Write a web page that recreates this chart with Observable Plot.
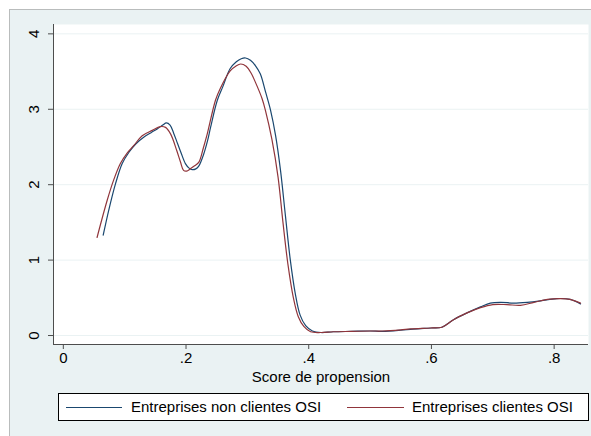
<!DOCTYPE html>
<html>
<head>
<meta charset="utf-8">
<script src="https://cdn.jsdelivr.net/npm/d3@7"></script>
<script src="https://cdn.jsdelivr.net/npm/@observablehq/plot@0.6"></script>
<style>
  html, body { margin: 0; padding: 0; background: #ffffff; }
  #wrap { position: relative; width: 591px; height: 436px; overflow: hidden; font-family: "Liberation Sans", Arial, sans-serif; }
  #region { position: absolute; left: 9px; top: 9px; right: 0; bottom: 0; background: #eaf2f3; border-left: 1px solid #b9bcbc; border-top: 1px solid #b9bcbc; }
  #chart { position: absolute; left: 0; top: 0; }
  #legend { position: absolute; left: 58px; top: 393px; width: 531px; height: 28px; box-sizing: border-box; border: 1px solid #000; background: #fff; }
  .sw { position: absolute; top: 12.5px; height: 0; border-top: 1.5px solid; }
  .lt { position: absolute; top: 4px; font-size: 15px; line-height: 17px; color: #000; white-space: nowrap; }
</style>
</head>
<body>
<div id="wrap">
  <div id="region"></div>
  <div id="chart"></div>
  <div id="legend"></div>
</div>
<script>
// Series names
const seriesNames = ["Entreprises non clientes OSI", "Entreprises clientes OSI"];
const seriesColors = ["#1a476f", "#90353b"];

// Entreprises non clientes OSI (kernel density)
const nonX = [0.065,0.074,0.085,0.096,0.107,0.118,0.131,0.143,0.153,0.162,0.168,0.174,0.180,0.186,0.192,0.199,0.205,0.210,0.216,0.221,0.229,0.235,0.240,0.251,0.260,0.272,0.282,0.290,0.297,0.305,0.313,0.321,0.3296,0.338,0.346,0.354,0.362,0.370,0.378,0.386,0.395,0.406,0.42,0.44,0.47,0.50,0.52,0.55,0.57,0.60,0.617,0.636,0.658,0.68,0.696,0.713,0.734,0.756,0.778,0.804,0.826,0.843];
const nonY = [1.33,1.66,2.01,2.28,2.43,2.54,2.63,2.69,2.74,2.79,2.82,2.79,2.68,2.55,2.42,2.28,2.22,2.20,2.21,2.25,2.41,2.58,2.76,3.12,3.30,3.54,3.63,3.67,3.68,3.65,3.58,3.47,3.23,2.98,2.65,2.19,1.59,1.00,0.56,0.27,0.13,0.06,0.04,0.05,0.055,0.06,0.055,0.07,0.085,0.10,0.11,0.21,0.30,0.38,0.43,0.44,0.43,0.44,0.46,0.49,0.48,0.42];

// Entreprises clientes OSI
const cliX = [0.055,0.0714,0.082,0.093,0.104,0.115,0.1286,0.145,0.158,0.1666,0.175,0.185,0.191,0.196,0.201,0.207,0.214,0.221,0.228,0.2345,0.248,0.256,0.272,0.281,0.289,0.298,0.306,0.313,0.324,0.3296,0.340,0.350,0.358,0.366,0.375,0.383,0.392,0.403,0.42,0.44,0.47,0.50,0.52,0.55,0.566,0.598,0.617,0.636,0.658,0.68,0.70,0.723,0.745,0.767,0.789,0.81,0.826,0.843];
const cliY = [1.30,1.79,2.06,2.28,2.42,2.52,2.65,2.72,2.77,2.76,2.67,2.45,2.30,2.19,2.18,2.21,2.25,2.30,2.48,2.67,3.12,3.28,3.51,3.57,3.60,3.57,3.48,3.36,3.14,2.98,2.60,2.10,1.50,0.95,0.50,0.25,0.12,0.05,0.04,0.05,0.055,0.06,0.06,0.075,0.088,0.10,0.11,0.21,0.30,0.37,0.41,0.41,0.40,0.44,0.48,0.49,0.48,0.43];

// Axes
const xTicks = [0, 0.2, 0.4, 0.6, 0.8];
const xTickLabels = ["0", ".2", ".4", ".6", ".8"];
const yTicks = [0, 1, 2, 3, 4];
const yTickLabels = ["0", "1", "2", "3", "4"];
const xDomain = [-0.016, 0.856];
const yDomain = [-0.119, 4.124];
const xTitle = "Score de propension";

const rows = [
  ...nonX.map((x, i) => ({x, y: nonY[i], s: seriesNames[0]})),
  ...cliX.map((x, i) => ({x, y: cliY[i], s: seriesNames[1]}))
];

const axisColor = "#4d4d4d";

const chart = Plot.plot({
  width: 591,
  height: 392,
  marginLeft: 53,
  marginRight: 3,
  marginTop: 24,
  marginBottom: 48,
  style: {background: "transparent", fontFamily: "'Liberation Sans', Arial, sans-serif", fontSize: "15px", color: "#000"},
  x: {domain: xDomain},
  y: {domain: yDomain},
  color: {domain: seriesNames, range: seriesColors},
  marks: [
    Plot.frame({fill: "#ffffff", stroke: null}),
    Plot.gridY(yTicks, {stroke: "#eaf2f3", strokeOpacity: 1, strokeWidth: 1}),
    Plot.line(rows, {x: "x", y: "y", z: "s", stroke: "s", strokeWidth: 1.2, curve: "catmull-rom"}),
    Plot.ruleX([xDomain[0]], {stroke: axisColor, strokeWidth: 1}),
    Plot.ruleY([yDomain[0]], {stroke: axisColor, strokeWidth: 1}),
    Plot.axisY({ticks: yTicks, tickFormat: (d, i) => yTickLabels[i], tickSize: 5, tickRotate: -90, tickPadding: 10, stroke: axisColor, label: null}),
    Plot.axisX({ticks: xTicks, tickFormat: (d, i) => xTickLabels[i], tickSize: 5, tickPadding: 3, stroke: axisColor, label: xTitle, labelAnchor: "center", labelArrow: "none", labelOffset: 37})
  ]
});
document.getElementById("chart").appendChild(chart);

// Legend (HTML, below the plot area)
const legend = document.getElementById("legend");
const swLeft = [7, 288], swWidth = [56, 57], txLeft = [72, 353];
seriesNames.forEach((name, i) => {
  const sw = document.createElement("div");
  sw.className = "sw";
  sw.style.left = swLeft[i] + "px";
  sw.style.width = swWidth[i] + "px";
  sw.style.borderTopColor = seriesColors[i];
  legend.appendChild(sw);
  const t = document.createElement("div");
  t.className = "lt";
  t.style.left = txLeft[i] + "px";
  t.textContent = name;
  legend.appendChild(t);
});
</script>
</body>
</html>
